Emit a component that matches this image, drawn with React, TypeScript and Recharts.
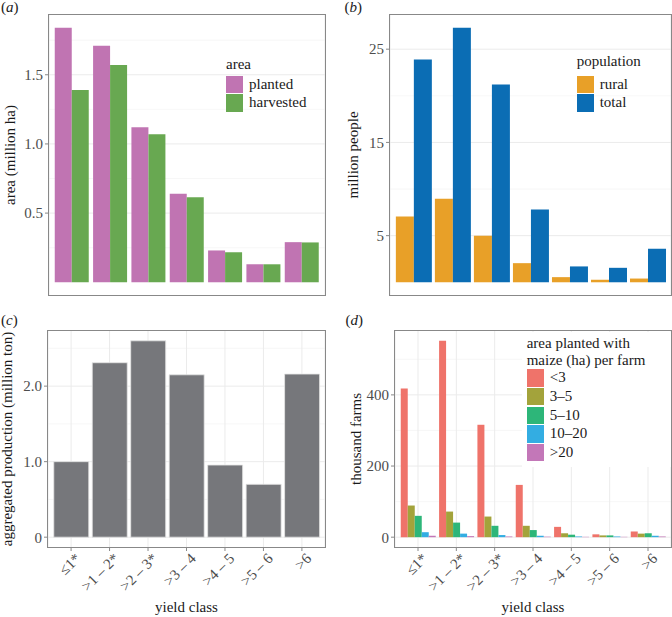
import React from 'react';
import { BarChart, Bar, XAxis, YAxis, CartesianGrid, Legend } from 'recharts';

// ---------- data ----------
const yieldClasses = ['≤1*', '>1 – 2*', '>2 – 3*', '>3 – 4', '>4 – 5', '>5 – 6', '>6'];

const areaPlanted = [1.84, 1.71, 1.12, 0.64, 0.23, 0.13, 0.29];
const areaHarvested = [1.39, 1.57, 1.07, 0.615, 0.217, 0.13, 0.288];

const ruralPop = [7.05, 8.95, 5.0, 2.05, 0.55, 0.27, 0.4];
const totalPop = [23.9, 27.3, 21.2, 7.8, 1.7, 1.55, 3.6];

const production = [1.0, 2.31, 2.6, 2.15, 0.955, 0.7, 2.16];

const farmsLt3 = [418, 552, 316, 147, 29, 8, 16];
const farms3to5 = [89, 72, 58, 32, 11, 5, 10];
const farms5to10 = [60, 41, 32, 20, 7, 5, 11];
const farms10to20 = [14, 10, 6, 4, 2, 2, 4];
const farmsGt20 = [4, 3, 2, 1.5, 1, 1, 2];

const areaSeries = ['planted', 'harvested'];
const popSeries = ['rural', 'total'];
const farmSeries = ['<3', '3–5', '5–10', '10–20', '>20'];

const areaTicks = [0.5, 1.0, 1.5];
const areaMinor = [0.25, 0.75, 1.25, 1.75];
const popTicks = [5, 15, 25];
const popMinor = [10, 20];
const prodTicks = [0, 1, 2];
const prodMinor = [0.5, 1.5, 2.5];
const farmTicks = [0, 200, 400];
const farmMinor = [100, 300, 500];

const areaData = yieldClasses.map((c, i) => ({ cls: c, planted: areaPlanted[i], harvested: areaHarvested[i] }));
const popData = yieldClasses.map((c, i) => ({ cls: c, rural: ruralPop[i], total: totalPop[i] }));
const prodData = yieldClasses.map((c, i) => ({ cls: c, production: production[i] }));
const farmData = yieldClasses.map((c, i) => ({
  cls: c,
  f1: farmsLt3[i],
  f2: farms3to5[i],
  f3: farms5to10[i],
  f4: farms10to20[i],
  f5: farmsGt20[i],
}));

// ---------- style ----------
const FONT = '"Liberation Serif", "Times New Roman", Times, serif';
const TICK_FILL = '#4d4d4d';
const TEXT = '#1a1a1a';
const GRID = '#ebebeb';
const GRID_MINOR = '#f3f3f3';
const FRAME = '#888888';

const C_PLANTED = '#c074b2';
const C_HARVESTED = '#68a851';
const C_RURAL = '#e8a028';
const C_TOTAL = '#0b6db4';
const C_PROD = '#76777b';
const FARM_COLORS = ['#ef736a', '#a3a33b', '#2db679', '#33ade2', '#c377b8'];

const expandDomain = (vals: number[]) => {
  const m = Math.max(...vals);
  return [-0.05 * m, 1.05 * m];
};

type Box = { x: number; y: number; w: number; h: number };

function Frame({ left, top, box }: { left: number; top: number; box: Box }) {
  return (
    <div
      style={{
        position: 'absolute',
        left: left + box.x - 1,
        top: top + box.y - 1,
        width: box.w + 2,
        height: box.h + 2,
        border: `1px solid ${FRAME}`,
        boxSizing: 'border-box',
        pointerEvents: 'none',
      }}
    />
  );
}

function PanelLabel({ letter, x, baseline }: { letter: string; x: number; baseline: number }) {
  return (
    <div
      style={{
        position: 'absolute',
        left: x,
        top: baseline - 10.6,
        lineHeight: '11px',
        fontSize: 15,
        whiteSpace: 'nowrap',
        color: TEXT,
      }}
    >
      (<i>{letter}</i>)
    </div>
  );
}

function YTitle(props: any) {
  const { viewBox, text, bx } = props;
  const cy = viewBox.y + viewBox.height / 2;
  return (
    <text x={bx} y={cy} transform={`rotate(-90, ${bx}, ${cy})`} textAnchor="middle" fontSize={15} fill={TEXT}>
      {text}
    </text>
  );
}

function XTitle(props: any) {
  const { viewBox, text, by } = props;
  const cx = viewBox.x + viewBox.width / 2;
  return (
    <text x={cx} y={by} textAnchor="middle" fontSize={15} fill={TEXT}>
      {text}
    </text>
  );
}

function RotTick(props: any) {
  const { x, y, payload } = props;
  return (
    <g transform={`translate(${x + 3},${y - 1})`}>
      <text x={0} y={0} dy="0.7em" textAnchor="end" transform="rotate(-45)" fontSize={15} fill={TICK_FILL}>
        {payload.value}
      </text>
    </g>
  );
}

type LegendCfg = {
  left: number;
  order: string[];
  titleLines: string[];
  titleBaselines: number[];
  keysTop: number;
  pitch: number;
  bg?: { left: number; top: number; width: number; height: number };
};

const makeLegend = (cfg: LegendCfg) => (props: any) => {
  const items = [...(props.payload || [])].sort(
    (a: any, b: any) => cfg.order.indexOf(String(a.value)) - cfg.order.indexOf(String(b.value))
  );
  return (
    <div style={{ position: 'relative', width: '100%', height: '100%', fontFamily: FONT }}>
      {cfg.bg && (
        <div
          style={{
            position: 'absolute',
            left: cfg.bg.left,
            top: cfg.bg.top,
            width: cfg.bg.width,
            height: cfg.bg.height,
            background: '#ffffff',
          }}
        />
      )}
      {cfg.titleLines.map((t, i) => (
        <div
          key={'t' + i}
          style={{
            position: 'absolute',
            left: cfg.left,
            top: cfg.titleBaselines[i] - 14.6,
            lineHeight: '19px',
            fontSize: 15,
            color: TEXT,
            whiteSpace: 'nowrap',
          }}
        >
          {t}
        </div>
      ))}
      {items.map((it: any, i: number) => (
        <React.Fragment key={'k' + i}>
          <div
            style={{
              position: 'absolute',
              left: cfg.left,
              top: cfg.keysTop + i * cfg.pitch,
              width: 17.3,
              height: 17.3,
              background: it.color,
            }}
          />
          <div
            style={{
              position: 'absolute',
              left: cfg.left + 23,
              top: cfg.keysTop + i * cfg.pitch,
              lineHeight: '17px',
              fontSize: 15,
              color: TEXT,
              whiteSpace: 'nowrap',
            }}
          >
            {it.value}
          </div>
        </React.Fragment>
      ))}
    </div>
  );
};

const axisTick = { fill: TICK_FILL, fontSize: 15 };
const tickLineStyle = { stroke: FRAME };

// ---------- panels ----------
function PanelA() {
  const box: Box = { x: 49, y: 15, w: 276, h: 280 };
  const pad = box.w / 72;
  return (
    <div style={{ position: 'absolute', left: 0, top: 0 }}>
      <BarChart width={336} height={300} data={areaData} margin={{ top: 15, right: 11, left: 0, bottom: 0 }} barCategoryGap="5%" barGap={0}>
        <CartesianGrid horizontalValues={areaMinor} vertical={false} stroke={GRID_MINOR} strokeWidth={0.7} />
        <CartesianGrid horizontalValues={areaTicks} stroke={GRID} strokeWidth={1} />
        <XAxis dataKey="cls" tick={false} tickSize={4} height={5} axisLine={false} tickLine={tickLineStyle} padding={{ left: pad, right: pad }} interval={0} />
        <YAxis
          domain={expandDomain([...areaPlanted, ...areaHarvested])}
          allowDataOverflow
          ticks={areaTicks}
          tickFormatter={(v: number) => v.toFixed(1)}
          width={49}
          tickSize={4}
          tickMargin={2}
          axisLine={false}
          tickLine={tickLineStyle}
          tick={axisTick}
          label={<YTitle text="area (million ha)" bx={14.5} />}
        />
        <Bar dataKey="planted" name={areaSeries[0]} fill={C_PLANTED} isAnimationActive={false} />
        <Bar dataKey="harvested" name={areaSeries[1]} fill={C_HARVESTED} isAnimationActive={false} />
        <Legend
          layout="vertical"
          align="center"
          verticalAlign="middle"
          wrapperStyle={{ left: 0, top: 0, width: 336, height: 300, pointerEvents: 'none' }}
          content={makeLegend({ left: 226, order: areaSeries, titleLines: ['area'], titleBaselines: [70], keysTop: 75.7, pitch: 18.6 })}
        />
      </BarChart>
      <Frame left={0} top={0} box={box} />
      <PanelLabel letter="a" x={1} baseline={13} />
    </div>
  );
}

function PanelB() {
  const box: Box = { x: 54, y: 15, w: 281, h: 280 };
  const pad = box.w / 72;
  return (
    <div style={{ position: 'absolute', left: 336, top: 0 }}>
      <BarChart width={336} height={300} data={popData} margin={{ top: 15, right: 1, left: 0, bottom: 0 }} barCategoryGap="5%" barGap={0}>
        <CartesianGrid horizontalValues={popMinor} vertical={false} stroke={GRID_MINOR} strokeWidth={0.7} />
        <CartesianGrid horizontalValues={popTicks} stroke={GRID} strokeWidth={1} />
        <XAxis dataKey="cls" tick={false} tickSize={4} height={5} axisLine={false} tickLine={tickLineStyle} padding={{ left: pad, right: pad }} interval={0} />
        <YAxis
          domain={expandDomain([...ruralPop, ...totalPop])}
          allowDataOverflow
          ticks={popTicks}
          width={54}
          tickSize={4}
          tickMargin={2}
          axisLine={false}
          tickLine={tickLineStyle}
          tick={axisTick}
          label={<YTitle text="million people" bx={22} />}
        />
        <Bar dataKey="rural" name={popSeries[0]} fill={C_RURAL} isAnimationActive={false} />
        <Bar dataKey="total" name={popSeries[1]} fill={C_TOTAL} isAnimationActive={false} />
        <Legend
          layout="vertical"
          align="center"
          verticalAlign="middle"
          wrapperStyle={{ left: 0, top: 0, width: 336, height: 300, pointerEvents: 'none' }}
          content={makeLegend({ left: 240.7, order: popSeries, titleLines: ['population'], titleBaselines: [66.7], keysTop: 75.7, pitch: 18.6 })}
        />
      </BarChart>
      <Frame left={0} top={0} box={box} />
      <PanelLabel letter="b" x={8.5} baseline={13} />
    </div>
  );
}

function PanelC() {
  const box: Box = { x: 48, y: 31, w: 277, h: 216 };
  const pad = box.w / 72;
  return (
    <div style={{ position: 'absolute', left: 0, top: 300 }}>
      <BarChart width={336} height={317} data={prodData} margin={{ top: 31, right: 11, left: 0, bottom: 0 }} barCategoryGap="5%" barGap={0}>
        <CartesianGrid horizontalValues={prodMinor} vertical={false} stroke={GRID_MINOR} strokeWidth={0.7} />
        <CartesianGrid horizontalValues={prodTicks} stroke={GRID} strokeWidth={1} />
        <XAxis
          dataKey="cls"
          tick={<RotTick />}
          tickSize={4}
          tickMargin={2}
          height={70}
          axisLine={false}
          tickLine={tickLineStyle}
          padding={{ left: pad, right: pad }}
          interval={0}
          label={<XTitle text="yield class" by={311.5} />}
        />
        <YAxis
          domain={expandDomain(production)}
          allowDataOverflow
          ticks={prodTicks}
          tickFormatter={(v: number) => (v === 0 ? '0' : v.toFixed(1))}
          width={48}
          tickSize={4}
          tickMargin={2}
          axisLine={false}
          tickLine={tickLineStyle}
          tick={axisTick}
          label={<YTitle text="aggregated production (million ton)" bx={12} />}
        />
        <Bar dataKey="production" name="production" fill={C_PROD} stroke="#e6e6e6" strokeWidth={0.8} isAnimationActive={false} />
      </BarChart>
      <Frame left={0} top={0} box={box} />
      <PanelLabel letter="c" x={1} baseline={26} />
    </div>
  );
}

function PanelD() {
  const box: Box = { x: 59, y: 31, w: 276, h: 216 };
  const pad = box.w / 72;
  const keys = ['f1', 'f2', 'f3', 'f4', 'f5'];
  return (
    <div style={{ position: 'absolute', left: 336, top: 300 }}>
      <BarChart width={336} height={317} data={farmData} margin={{ top: 31, right: 1, left: 0, bottom: 0 }} barCategoryGap="5%" barGap={0}>
        <CartesianGrid horizontalValues={farmMinor} vertical={false} stroke={GRID_MINOR} strokeWidth={0.7} />
        <CartesianGrid horizontalValues={farmTicks} stroke={GRID} strokeWidth={1} />
        <XAxis
          dataKey="cls"
          tick={<RotTick />}
          tickSize={4}
          tickMargin={2}
          height={70}
          axisLine={false}
          tickLine={tickLineStyle}
          padding={{ left: pad, right: pad }}
          interval={0}
          label={<XTitle text="yield class" by={311.5} />}
        />
        <YAxis
          domain={expandDomain(farmsLt3)}
          allowDataOverflow
          ticks={farmTicks}
          width={59}
          tickSize={4}
          tickMargin={2}
          axisLine={false}
          tickLine={tickLineStyle}
          tick={axisTick}
          label={<YTitle text="thousand farms" bx={24.5} />}
        />
        {keys.map((k, i) => (
          <Bar key={k} dataKey={k} name={farmSeries[i]} fill={FARM_COLORS[i]} isAnimationActive={false} />
        ))}
        <Legend
          layout="vertical"
          align="center"
          verticalAlign="middle"
          wrapperStyle={{ left: 0, top: 0, width: 336, height: 317, pointerEvents: 'none' }}
          content={makeLegend({
            left: 190.7,
            order: farmSeries,
            titleLines: ['area planted with', 'maize (ha) per farm'],
            titleBaselines: [49, 66],
            keysTop: 69.3,
            pitch: 18.7,
            bg: { left: 186, top: 32, width: 150, height: 135 },
          })}
        />
      </BarChart>
      <Frame left={0} top={0} box={box} />
      <PanelLabel letter="d" x={9.5} baseline={26} />
    </div>
  );
}

export default function App() {
  return (
    <div
      style={{
        position: 'absolute',
        left: 0,
        top: 0,
        width: 672,
        height: 617,
        background: '#ffffff',
        fontFamily: FONT,
        overflow: 'hidden',
      }}
    >
      <PanelA />
      <PanelB />
      <PanelC />
      <PanelD />
    </div>
  );
}
